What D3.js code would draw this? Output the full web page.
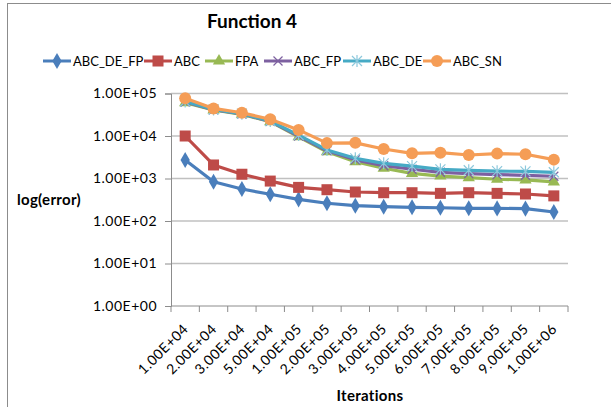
<!DOCTYPE html>
<html><head><meta charset="utf-8">
<script src="https://cdn.jsdelivr.net/npm/d3@7"></script>
<style>body{margin:0;background:#fff}svg{display:block;font-family:Lato,"Liberation Sans",sans-serif}</style>
</head><body><svg id="c" width="611" height="407"></svg>
<script>
const categories = ["1.00E+04","2.00E+04","3.00E+04","5.00E+04","1.00E+05","2.00E+05","3.00E+05","4.00E+05","5.00E+05","6.00E+05","7.00E+05","8.00E+05","9.00E+05","1.00E+06"];
const ABC_DE_FP = [2720, 840, 565, 425, 323, 262, 229, 217, 210, 205, 199, 198, 196, 163];
const ABC       = [10000, 2080, 1260, 870, 618, 545, 481, 463, 463, 447, 463, 447, 432, 390];
const FPA       = [60700, 41000, 32400, 21700, 9600, 4250, 2490, 1740, 1320, 1140, 1050, 960, 925, 830];
const ABC_FP    = [63000, 41500, 33000, 22000, 10000, 4500, 2750, 2000, 1650, 1400, 1300, 1230, 1190, 1130];
const ABC_DE    = [65000, 42000, 33500, 22500, 10500, 4700, 2985, 2275, 1960, 1645, 1560, 1490, 1470, 1400];
const ABC_SN    = [77100, 44600, 35300, 24700, 13900, 6800, 6900, 4940, 3910, 4050, 3570, 3850, 3720, 2780];
const seriesNames = ["ABC_DE_FP","ABC","FPA","ABC_FP","ABC_DE","ABC_SN"];
const seriesData = [ABC_DE_FP, ABC, FPA, ABC_FP, ABC_DE, ABC_SN];
const colors = ["#4A7EBB","#BE4B48","#98B954","#7D60A0","#46AAC5","#F59D56"];
const markers = ["diamond","square","triangle","x","star","circle"];
const yTicks = [1,10,100,1000,10000,100000];
const yTickLabels = ["1.00E+00","1.00E+01","1.00E+02","1.00E+03","1.00E+04","1.00E+05"];

const svg = d3.select("#c");
const L=171, R=568, T=93.5, B=306;
svg.append("rect").attr("x",7.5).attr("y",3.5).attr("width",700).attr("height",500).attr("fill","#fff").attr("stroke","#8c8c8c");

const x = d3.scaleBand().domain(categories).range([L,R]);
const y = d3.scaleLog().domain([1,100000]).range([B,T]);

// gridlines
svg.append("g").selectAll("line").data(yTicks.slice(1)).join("line")
  .attr("x1",L).attr("x2",R).attr("y1",d=>y(d)).attr("y2",d=>y(d))
  .attr("stroke","#c0c0c0").attr("stroke-width",1.3);

// y axis
const ya = svg.append("g").attr("transform",`translate(${L},0)`)
  .call(d3.axisLeft(y).tickValues(yTicks).tickFormat((d,i)=>yTickLabels[i]).tickSize(6).tickPadding(8));
ya.select(".domain").attr("stroke","#8c8c8c");
ya.selectAll(".tick line").attr("stroke","#8c8c8c");
ya.selectAll("text").attr("font-size",14).attr("letter-spacing",0.5).attr("fill","#000").attr("font-family","Lato");

// x axis
const xa = svg.append("g").attr("transform",`translate(0,${B})`)
  .call(d3.axisBottom(x).tickSize(0).tickFormat(""));
xa.select(".domain").attr("stroke","#8c8c8c").attr("d",`M${L},0H${R}`);
const bounds = d3.range(categories.length+1).map(i=>L+i*x.step());
xa.selectAll(".bt").data(bounds).join("line").attr("class","bt")
  .attr("x1",d=>d).attr("x2",d=>d).attr("y1",0).attr("y2",6).attr("stroke","#8c8c8c");
svg.append("g").selectAll("text").data(categories).join("text")
  .attr("transform",d=>`translate(${x(d)+x.bandwidth()/2+4},${B+24}) rotate(-45)`)
  .attr("text-anchor","end").attr("font-size",14).attr("letter-spacing",0.5).text(d=>d);

const cx = d=>x(d)+x.bandwidth()/2;

function drawMarker(g, type, color){
  if(type==="diamond") g.append("path").attr("d",d3.symbol(d3.symbolDiamond,75)()).attr("fill",color);
  else if(type==="square") g.append("rect").attr("x",-5.5).attr("y",-5.5).attr("width",11).attr("height",11).attr("fill",color);
  else if(type==="triangle") g.append("path").attr("d",d3.symbol(d3.symbolTriangle,65)()).attr("fill",color);
  else if(type==="circle") g.append("circle").attr("r",6).attr("fill",color);
  else if(type==="x") g.append("path").attr("d","M-4.5,-4.5L4.5,4.5M-4.5,4.5L4.5,-4.5").attr("stroke",color).attr("stroke-width",1.2).attr("fill","none");
  else if(type==="star") g.append("path").attr("d","M-5,-5L5,5M-5,5L5,-5M0,-6V6").attr("stroke","#8cc8dc").attr("stroke-width",1.2).attr("fill","none");
}

const line = d3.line().x((d,i)=>cx(categories[i])).y(d=>y(d));
seriesData.forEach((data,si)=>{
  const g = svg.append("g");
  g.append("path").datum(data).attr("d",line).attr("fill","none").attr("stroke",colors[si]).attr("stroke-width",3.2).attr("stroke-linejoin","round");
  data.forEach((v,i)=>{
    const mg = g.append("g").attr("transform",`translate(${cx(categories[i])},${y(v)})`);
    drawMarker(mg, markers[si], colors[si]);
  });
});

// title
svg.append("text").attr("x",252).attr("y",28).attr("text-anchor","middle").attr("font-size",19).attr("font-weight","bold").text("Function 4");
// axis titles
svg.append("text").attr("x",17).attr("y",205).attr("font-size",15).attr("font-weight","bold").attr("letter-spacing",0.3).text("log(error)");
svg.append("text").attr("x",370).attr("y",401).attr("text-anchor","middle").attr("font-size",15).attr("font-weight","bold").attr("letter-spacing",0.3).text("Iterations");

// legend
const legX = [43,144,205,264,343,423];
seriesNames.forEach((n,i)=>{
  const g = svg.append("g").attr("transform",`translate(${legX[i]},61)`);
  g.append("line").attr("x1",0).attr("x2",28).attr("stroke",colors[i]).attr("stroke-width",3);
  const mg = g.append("g").attr("transform","translate(14,0)");
  drawMarker(mg, markers[i], colors[i]);
  g.append("text").attr("x",30).attr("y",4.5).attr("font-size",13).text(n);
});
</script></body></html>
